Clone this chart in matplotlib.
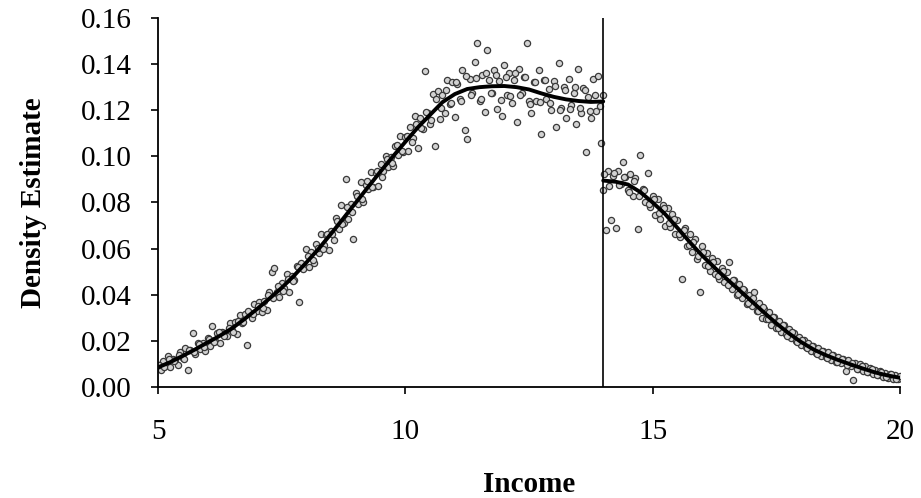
import matplotlib
matplotlib.use("Agg")
import matplotlib.pyplot as plt

# ---- data ----
cutoff = 14.0

line_left_x = [5.00, 5.25, 5.50, 5.75, 6.00, 6.25, 6.50, 6.75, 7.00, 7.25, 7.50, 7.75,
               8.00, 8.25, 8.50, 8.75, 9.00, 9.25, 9.50, 9.75, 10.00, 10.25, 10.50, 10.75,
               11.00, 11.25, 11.50, 11.75, 12.00, 12.25, 12.50, 12.75, 13.00, 13.25, 13.50,
               13.75, 14.00]
line_left_y = [0.0085, 0.0108, 0.0135, 0.0163, 0.0193, 0.0222, 0.0255, 0.0295, 0.0338, 0.0383,
               0.0430, 0.0483, 0.0540, 0.0600, 0.0665, 0.0732, 0.0800, 0.0868, 0.0935, 0.1000,
               0.1063, 0.1125, 0.1180, 0.1235, 0.1270, 0.1292, 0.1300, 0.1304, 0.1305, 0.1300,
               0.1290, 0.1273, 0.1258, 0.1247, 0.1240, 0.1236, 0.1238]

line_right_x = [14.00, 14.25, 14.50, 14.75, 15.00, 15.25, 15.50, 15.75, 16.00, 16.25, 16.50,
                16.75, 17.00, 17.25, 17.50, 17.75, 18.00, 18.25, 18.50, 18.75, 19.00, 19.25,
                19.50, 19.75, 20.00]
line_right_y = [0.0895, 0.0890, 0.0878, 0.0845, 0.0800, 0.0750, 0.0690, 0.0628, 0.0570, 0.0518,
                0.0468, 0.0420, 0.0372, 0.0323, 0.0276, 0.0233, 0.0195, 0.0163, 0.0138, 0.0117,
                0.0098, 0.0080, 0.0063, 0.0050, 0.0040]

pts_left_x = [5.00, 5.05, 5.10, 5.15, 5.20, 5.25, 5.30, 5.35, 5.40, 5.45, 5.50, 5.55, 5.60, 5.65,
              5.70, 5.75, 5.80, 5.85, 5.90, 5.95, 6.00, 6.05, 6.10, 6.15, 6.20, 6.25, 6.30, 6.35,
              6.40, 6.45, 6.50, 6.55, 6.60, 6.65, 6.70, 6.75, 6.80, 6.85, 6.90, 6.95, 7.00, 7.05,
              7.10, 7.15, 7.20, 7.25, 7.30, 7.35, 7.40, 7.45, 7.50, 7.55, 7.60, 7.65, 7.70, 7.75,
              7.80, 7.85, 7.90, 7.95, 8.00, 8.05, 8.10, 8.15, 8.20, 8.25, 8.30, 8.35, 8.40, 8.45,
              8.50, 8.55, 8.60, 8.65, 8.70, 8.75, 8.80, 8.85, 8.90, 8.95, 9.00, 9.05, 9.10, 9.15,
              9.20, 9.25, 9.30, 9.35, 9.40, 9.45, 9.50, 9.55, 9.60, 9.65, 9.70, 9.75, 9.80, 9.85,
              9.90, 9.95, 10.00, 10.05, 10.10, 10.15, 10.20, 10.25, 10.30, 10.35, 10.40, 10.45,
              10.50, 10.55, 10.60, 10.65, 10.70, 10.75, 10.80, 10.85, 10.90, 10.95, 11.00, 11.05,
              11.10, 11.15, 11.20, 11.25, 11.30, 11.35, 11.40, 11.45, 11.50, 11.55, 11.60, 11.65,
              11.70, 11.75, 11.80, 11.85, 11.90, 11.95, 12.00, 12.05, 12.10, 12.15, 12.20, 12.25,
              12.30, 12.35, 12.40, 12.45, 12.50, 12.55, 12.60, 12.65, 12.70, 12.75, 12.80, 12.85,
              12.90, 12.95, 13.00, 13.05, 13.10, 13.15, 13.20, 13.25, 13.30, 13.35, 13.40, 13.45,
              13.50, 13.55, 13.60, 13.65, 13.70, 13.75, 13.80, 13.85, 13.90, 13.95, 14.00]
pts_left_y = [0.0095, 0.0075, 0.0114, 0.0089, 0.0133, 0.0088, 0.0123, 0.0119, 0.0094, 0.0150,
              0.0125, 0.0171, 0.0075, 0.0162, 0.0235, 0.0143, 0.0189, 0.0165, 0.0191, 0.0157,
              0.0213, 0.0179, 0.0265, 0.0200, 0.0236, 0.0192, 0.0239, 0.0235, 0.0222, 0.0278,
              0.0245, 0.0283, 0.0231, 0.0310, 0.0277, 0.0315, 0.0180, 0.0322, 0.0301, 0.0359,
              0.0328, 0.0367, 0.0326, 0.0375, 0.0334, 0.0413, 0.0500, 0.0515, 0.0411, 0.0391,
              0.0450, 0.0431, 0.0491, 0.0412, 0.0482, 0.0463, 0.0524, 0.0370, 0.0537, 0.0519,
              0.0600, 0.0522, 0.0584, 0.0536, 0.0618, 0.0580, 0.0663, 0.0616, 0.0659, 0.0592,
              0.0675, 0.0638, 0.0732, 0.0685, 0.0789, 0.0712, 0.0900, 0.0729, 0.0793, 0.0640,
              0.0840, 0.0794, 0.0887, 0.0801, 0.0874, 0.0858, 0.0931, 0.0865, 0.0928, 0.0872,
              0.0965, 0.0938, 0.1001, 0.0954, 0.0997, 0.0960, 0.1043, 0.1005, 0.1088, 0.1020,
              0.1083, 0.1025, 0.1128, 0.1080, 0.1173, 0.1035, 0.1166, 0.1117, 0.1370, 0.1189,
              0.1140, 0.1271, 0.1045, 0.1283, 0.1164, 0.1265, 0.1190, 0.1329, 0.1226, 0.1323,
              0.1170, 0.1314, 0.1248, 0.1373, 0.1115, 0.1075, 0.1334, 0.1276, 0.1408, 0.1490,
              0.1240, 0.1351, 0.1192, 0.1460, 0.1333, 0.1274, 0.1374, 0.1204, 0.1325, 0.1175,
              0.1395, 0.1264, 0.1363, 0.1232, 0.1331, 0.1150, 0.1378, 0.1276, 0.1344, 0.1490,
              0.1242, 0.1187, 0.1323, 0.1240, 0.1376, 0.1095, 0.1330, 0.1247, 0.1294, 0.1201,
              0.1328, 0.1126, 0.1404, 0.1211, 0.1299, 0.1167, 0.1336, 0.1224, 0.1273, 0.1141,
              0.1380, 0.1189, 0.1298, 0.1020, 0.1257, 0.1166, 0.1336, 0.1196, 0.1347, 0.1060,
              0.1268]

# additional bins lying between the ones above (close to the fitted line)
pts_left2_x = [5.025, 5.125, 5.225, 5.325, 5.425, 5.525, 5.625, 5.725, 5.825, 5.925,
               6.025, 6.125, 6.225, 6.325, 6.425, 6.525, 6.625, 6.725, 6.825, 6.925,
               7.025, 7.125, 7.225, 7.325, 7.425, 7.525, 7.625, 7.725, 7.825, 7.925,
               8.025, 8.125, 8.225, 8.325, 8.425, 8.525, 8.625, 8.725, 8.825, 8.925,
               9.025, 9.125, 9.225, 9.325, 9.425, 9.525, 9.625, 9.725, 9.825, 9.925,
               10.025, 10.125, 10.225, 10.325, 10.425, 10.525, 10.625, 10.725, 10.825, 10.925,
               11.025, 11.125, 11.225, 11.325, 11.425, 11.525, 11.625, 11.725, 11.825, 11.925,
               12.025, 12.125, 12.225, 12.325, 12.425, 12.525, 12.625, 12.725, 12.825, 12.925,
               13.025, 13.125, 13.225, 13.325, 13.425, 13.525, 13.625, 13.725, 13.825, 13.925]
pts_left2_y = [0.0097, 0.0087, 0.0121, 0.0111, 0.0137, 0.0123, 0.0159, 0.0150, 0.0187, 0.0174,
               0.0206, 0.0193, 0.0239, 0.0222, 0.0255, 0.0239, 0.0285, 0.0281, 0.0328, 0.0315,
               0.0352, 0.0341, 0.0399, 0.0387, 0.0436, 0.0415, 0.0467, 0.0458, 0.0520, 0.0513,
               0.0566, 0.0550, 0.0604, 0.0600, 0.0665, 0.0662, 0.0718, 0.0705, 0.0782, 0.0760,
               0.0827, 0.0814, 0.0891, 0.0868, 0.0935, 0.0912, 0.0988, 0.0973, 0.1049, 0.1024,
               0.1089, 0.1064, 0.1139, 0.1122, 0.1194, 0.1156, 0.1248, 0.1209, 0.1286, 0.1230,
               0.1322, 0.1241, 0.1350, 0.1265, 0.1338, 0.1250, 0.1362, 0.1274, 0.1354, 0.1245,
               0.1345, 0.1263, 0.1360, 0.1267, 0.1343, 0.1228, 0.1321, 0.1235, 0.1329, 0.1232,
               0.1307, 0.1203, 0.1288, 0.1205, 0.1302, 0.1210, 0.1288, 0.1196, 0.1266, 0.1217]

pts_right_x = [14.00, 14.05, 14.10, 14.15, 14.20, 14.25, 14.30, 14.35, 14.40, 14.45, 14.50, 14.55,
               14.60, 14.65, 14.70, 14.75, 14.80, 14.85, 14.90, 14.95, 15.00, 15.05, 15.10, 15.15,
               15.20, 15.25, 15.30, 15.35, 15.40, 15.45, 15.50, 15.55, 15.60, 15.65, 15.70, 15.75,
               15.80, 15.85, 15.90, 15.95, 16.00, 16.05, 16.10, 16.15, 16.20, 16.25, 16.30, 16.35,
               16.40, 16.45, 16.50, 16.55, 16.60, 16.65, 16.70, 16.75, 16.80, 16.85, 16.90, 16.95,
               17.00, 17.05, 17.10, 17.15, 17.20, 17.25, 17.30, 17.35, 17.40, 17.45, 17.50, 17.55,
               17.60, 17.65, 17.70, 17.75, 17.80, 17.85, 17.90, 17.95, 18.00, 18.05, 18.10, 18.15,
               18.20, 18.25, 18.30, 18.35, 18.40, 18.45, 18.50, 18.55, 18.60, 18.65, 18.70, 18.75,
               18.80, 18.85, 18.90, 18.95, 19.00, 19.05, 19.10, 19.15, 19.20, 19.25, 19.30, 19.35,
               19.40, 19.45, 19.50, 19.55, 19.60, 19.65, 19.70, 19.75, 19.80, 19.85, 19.90, 19.95,
               20.00]
pts_right_y = [0.0855, 0.0680, 0.0935, 0.0725, 0.0915, 0.0688, 0.0935, 0.0880, 0.0977, 0.0910,
               0.0855, 0.0925, 0.0830, 0.0905, 0.0684, 0.1006, 0.0860, 0.0800, 0.0926, 0.0780,
               0.0830, 0.0745, 0.0815, 0.0730, 0.0790, 0.0700, 0.0775, 0.0695, 0.0750, 0.0665,
               0.0725, 0.0650, 0.0470, 0.0690, 0.0610, 0.0665, 0.0585, 0.0640, 0.0555, 0.0410,
               0.0610, 0.0530, 0.0580, 0.0505, 0.0560, 0.0490, 0.0545, 0.0470, 0.0515, 0.0455,
               0.0500, 0.0540, 0.0425, 0.0465, 0.0400, 0.0445, 0.0385, 0.0420, 0.0360, 0.0400,
               0.0350, 0.0410, 0.0330, 0.0365, 0.0300, 0.0340, 0.0295, 0.0325, 0.0270, 0.0305,
               0.0255, 0.0285, 0.0240, 0.0268, 0.0228, 0.0250, 0.0212, 0.0235, 0.0198, 0.0218,
               0.0180, 0.0205, 0.0172, 0.0192, 0.0158, 0.0178, 0.0148, 0.0168, 0.0136, 0.0158,
               0.0128, 0.0150, 0.0118, 0.0140, 0.0110, 0.0130, 0.0104, 0.0122, 0.0070, 0.0115,
               0.0090, 0.0030, 0.0105, 0.0078, 0.0098, 0.0070, 0.0090, 0.0063, 0.0082, 0.0056,
               0.0075, 0.0050, 0.0068, 0.0044, 0.0062, 0.0040, 0.0058, 0.0036, 0.0052, 0.0034,
               0.0048]

pts_right2_x = [14.025, 14.125, 14.225, 14.325, 14.425, 14.525, 14.625, 14.725, 14.825, 14.925,
                15.025, 15.125, 15.225, 15.325, 15.425, 15.525, 15.625, 15.725, 15.825, 15.925,
                16.025, 16.125, 16.225, 16.325, 16.425, 16.525, 16.625, 16.725, 16.825, 16.925,
                17.025, 17.125, 17.225, 17.325, 17.425, 17.525, 17.625, 17.725, 17.825, 17.925,
                18.025, 18.125, 18.225, 18.325, 18.425, 18.525, 18.625, 18.725, 18.825, 18.925,
                19.025, 19.125, 19.225, 19.325, 19.425, 19.525, 19.625, 19.725, 19.825, 19.925]
pts_right2_y = [0.0925, 0.0872, 0.0930, 0.0876, 0.0912, 0.0845, 0.0892, 0.0828, 0.0856, 0.0794,
                0.0815, 0.0755, 0.0775, 0.0712, 0.0728, 0.0664, 0.0679, 0.0614, 0.0630, 0.0567,
                0.0585, 0.0524, 0.0543, 0.0483, 0.0503, 0.0443, 0.0464, 0.0405, 0.0426, 0.0366,
                0.0387, 0.0328, 0.0348, 0.0294, 0.0305, 0.0257, 0.0269, 0.0222, 0.0237, 0.0197,
                0.0202, 0.0169, 0.0176, 0.0145, 0.0155, 0.0126, 0.0138, 0.0109, 0.0121, 0.0094,
                0.0106, 0.0079, 0.0092, 0.0067, 0.0076, 0.0054, 0.0064, 0.0043, 0.0055, 0.0035]

x_ticks = [5, 10, 15, 20]
y_ticks = [0.00, 0.02, 0.04, 0.06, 0.08, 0.10, 0.12, 0.14, 0.16]
x_label = "Income"
y_label = "Density Estimate"

# ---- plot ----
plt.rcParams['font.family'] = ['Liberation Serif', 'DejaVu Serif']
fig = plt.figure(figsize=(9.21, 4.98), dpi=100)
ax = fig.add_axes([0.1716, 0.2229, 0.8056, 0.7410])

mk = dict(s=20, facecolors='#d2d2d2', edgecolors='#3a3a3a', linewidths=0.9, zorder=2)
for xs, ys in [(pts_left_x, pts_left_y), (pts_left2_x, pts_left2_y),
               (pts_right_x, pts_right_y), (pts_right2_x, pts_right2_y)]:
    ax.scatter(xs, ys, **mk)
ax.plot(line_left_x, line_left_y, color='black', lw=2.8, zorder=3,
        solid_capstyle='round', solid_joinstyle='round')
ax.plot(line_right_x, line_right_y, color='black', lw=2.8, zorder=3,
        solid_capstyle='round', solid_joinstyle='round')
ax.axvline(cutoff, ymin=0, ymax=1, color='black', lw=1.2, zorder=4)

ax.set_xlim(5, 20)
ax.set_ylim(0, 0.16)
ax.set_xticks(x_ticks)
ax.set_yticks(y_ticks)
ax.set_yticklabels([f"{v:.2f}" for v in y_ticks])
ax.tick_params(axis='both', direction='out', length=5, width=1.2, labelsize=21, colors='black')
ax.tick_params(axis='y', pad=14)
ax.tick_params(axis='x', pad=18)
for s in ['top', 'right']:
    ax.spines[s].set_visible(False)
for s in ['left', 'bottom']:
    ax.spines[s].set_linewidth(1.3)

ax.set_xlabel(x_label, fontsize=21, fontweight='bold', labelpad=19)
ax.set_ylabel(y_label, fontsize=21, fontweight='bold', labelpad=24)

fig.savefig("out.png", dpi=100)
